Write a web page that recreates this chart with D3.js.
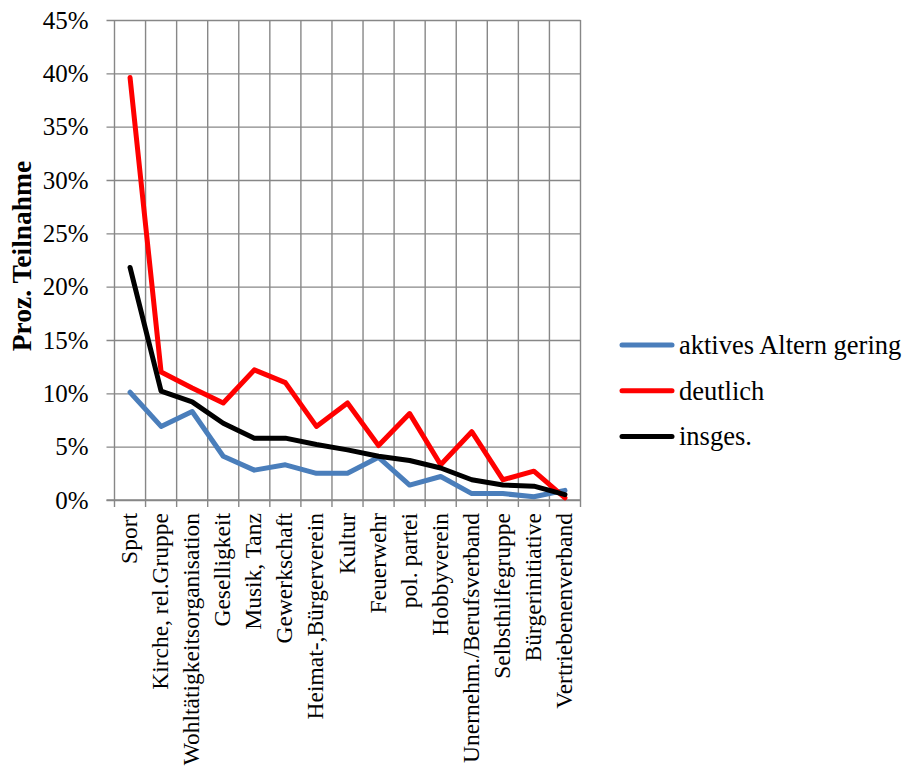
<!DOCTYPE html>
<html>
<head>
<meta charset="utf-8">
<script src="https://cdn.jsdelivr.net/npm/d3@7"></script>
<style>
  body { margin: 0; background: #fff; }
</style>
</head>
<body>
<svg id="chart" width="905" height="774"></svg>
<script>
const categories = ["Sport", "Kirche, rel.Gruppe", "Wohltätigkeitsorganisation", "Geselligkeit",
  "Musik, Tanz", "Gewerkschaft", "Heimat-,Bürgerverein", "Kultur", "Feuerwehr", "pol. partei",
  "Hobbyverein", "Unernehm./Berufsverband", "Selbsthilfegruppe", "Bürgerinitiative", "Vertriebenenverband"];

const gering   = [10.1, 6.9, 8.3, 4.1, 2.8, 3.3, 2.5, 2.5, 4.0, 1.4, 2.2, 0.6, 0.6, 0.3, 0.9];
const deutlich = [39.6, 12.0, 10.5, 9.1, 12.2, 11.0, 6.9, 9.1, 5.1, 8.1, 3.3, 6.4, 1.9, 2.7, 0.2];
const insges   = [21.8, 10.2, 9.2, 7.2, 5.8, 5.8, 5.2, 4.7, 4.1, 3.7, 3.0, 1.9, 1.4, 1.3, 0.5];

const yTicks = [0, 5, 10, 15, 20, 25, 30, 35, 40, 45];

const seriesList = [
  { name: "aktives Altern gering", values: gering, color: "#4a7ebb" },
  { name: "deutlich", values: deutlich, color: "#ff0000" },
  { name: "insges.", values: insges, color: "#000000" }
];

const FONT = "'Liberation Serif', 'Times New Roman', serif";
const svg = d3.select("#chart");
const plotLeft = 114.5, plotRight = 580.5, plotTop = 20, plotBottom = 500;
const gridColor = "#878787";

const x = d3.scaleBand().domain(categories).range([plotLeft, plotRight]).padding(0);
const y = d3.scaleLinear().domain([0, 45]).range([plotBottom, plotTop]);

// horizontal gridlines with outward ticks
svg.append("g").attr("transform", `translate(${plotLeft},0)`)
  .call(d3.axisLeft(y).tickValues(yTicks).tickSize(-(plotRight - plotLeft)).tickSizeOuter(0).tickFormat(d => d + "%"))
  .call(g => g.attr("font-family", null).attr("font-size", null))
  .call(g => g.select(".domain").remove())
  .call(g => g.selectAll(".tick line").attr("stroke", gridColor).attr("stroke-width", 1.4).attr("x1", -8))
  .call(g => g.selectAll(".tick text").attr("x", -26).attr("dy", "0.33em").attr("fill", "#000")
    .style("font-family", FONT).style("font-size", "25px"));

// vertical gridlines at category boundaries
const bounds = categories.map(c => x(c)).concat([plotRight]);
svg.append("g").selectAll("line").data(bounds).join("line")
  .attr("x1", d => d).attr("x2", d => d).attr("y1", plotTop).attr("y2", plotBottom + 7)
  .attr("stroke", gridColor).attr("stroke-width", 1.4);

// bottom axis line
svg.append("line").attr("x1", plotLeft - 8).attr("x2", plotRight).attr("y1", plotBottom).attr("y2", plotBottom)
  .attr("stroke", gridColor).attr("stroke-width", 1.4);

// category labels
const bw = x.bandwidth();
svg.append("g").selectAll("text").data(categories).join("text")
  .attr("transform", d => `translate(${x(d) + bw / 2 + 7},${plotBottom + 13}) rotate(-90)`)
  .attr("text-anchor", "end")
  .style("font-family", FONT).style("font-size", "23.5px")
  .text(d => d);

// axis title
svg.append("text")
  .attr("transform", `translate(31,256) rotate(-90)`)
  .attr("text-anchor", "middle")
  .style("font-family", FONT).style("font-size", "27.5px").style("font-weight", "bold")
  .text("Proz. Teilnahme");

// series lines
const line = d3.line().x((d, i) => x(categories[i]) + bw / 2).y(d => y(d));
svg.append("g").selectAll("path").data(seriesList).join("path")
  .attr("d", d => line(d.values))
  .attr("fill", "none").attr("stroke", d => d.color).attr("stroke-width", 5)
  .attr("stroke-linejoin", "round").attr("stroke-linecap", "round");

// legend
const legend = svg.append("g").selectAll("g").data(seriesList).join("g")
  .attr("transform", (d, i) => `translate(620,${345 + i * 45.8})`);
legend.append("line").attr("x1", 2).attr("x2", 52).attr("y1", 0).attr("y2", 0)
  .attr("stroke", d => d.color).attr("stroke-width", 5).attr("stroke-linecap", "round");
legend.append("text").attr("x", 59).attr("dy", "0.33em")
  .style("font-family", FONT).style("font-size", "26.5px").text(d => d.name);
</script>
</body>
</html>
